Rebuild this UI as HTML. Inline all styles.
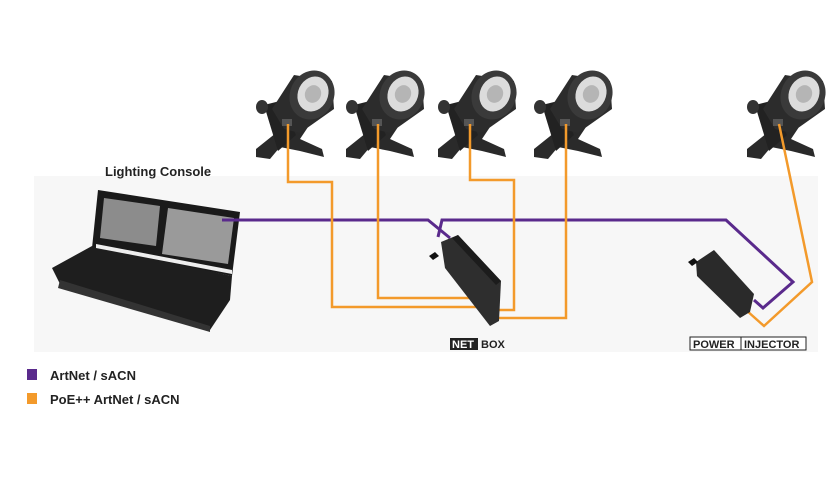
<!DOCTYPE html>
<html><head><style>
body{margin:0;background:#fff;width:840px;height:480px;overflow:hidden;font-family:"Liberation Sans",sans-serif}
</style></head><body>
<svg width="840" height="480" viewBox="0 0 840 480" xmlns="http://www.w3.org/2000/svg">
<defs>
<g id="fx">
  <path d="M6 84 L26 68 L40 58 L58 62 L50 74 L72 84 L74 92 L50 86 L30 82 L20 94 L6 92 Z" fill="#2a2a2a"/>
  <path d="M14 40 L30 36 L46 70 L28 86 Z" fill="#222"/>
  <ellipse cx="12" cy="42" rx="6" ry="7" fill="#333"/>
  <path d="M22 44 L44 10 L82 16 L84 44 L50 68 L34 64 Z" fill="#2c2c2c"/>
  <ellipse cx="62" cy="30" rx="22" ry="25" transform="rotate(25 62 30)" fill="#3a3a3a"/>
  <ellipse cx="63" cy="29" rx="15" ry="18" transform="rotate(25 63 29)" fill="#dcdcdc"/>
  <ellipse cx="63" cy="29" rx="8" ry="9" transform="rotate(25 63 29)" fill="#b5b5b5"/>
  <rect x="32" y="54" width="10" height="7" fill="#555"/>
</g>
</defs>
<rect x="34" y="176" width="784" height="176" fill="#f7f7f7"/>
<use href="#fx" x="250" y="65"/>
<use href="#fx" x="340" y="65"/>
<use href="#fx" x="432" y="65"/>
<use href="#fx" x="528" y="65"/>
<use href="#fx" x="741" y="65"/>

<!-- console -->
<text x="105" y="176" font-size="13" font-weight="bold" fill="#222">Lighting Console</text>
<path d="M98 190 L240 212 L232 276 L92 248 Z" fill="#1a1a1a"/>
<path d="M104 198 L160 206 L156 246 L100 238 Z" fill="#8c8c8c"/>
<path d="M168 208 L234 218 L228 264 L162 254 Z" fill="#9a9a9a"/>
<path d="M92 246 L232 276 L230 300 L210 330 L60 284 L52 268 Z" fill="#1e1e1e"/>
<path d="M96 244 L232 270 L232 274 L96 248 Z" fill="#eee"/>
<path d="M60 280 L210 326 L210 332 L58 288 Z" fill="#333"/>

<!-- purple lines -->
<g fill="none" stroke="#5a2a8c" stroke-width="3">
<polyline points="222,220 428,220 450,238"/>
<polyline points="438,237 442,220 726,220 793,282 763,308 754,300"/>
</g>
<!-- orange lines -->
<g fill="none" stroke="#f39a2b" stroke-width="2.5">
<polyline points="288,124 288,182 332,182 332,307 497,307"/>
<polyline points="378,124 378,298 497,298"/>
<polyline points="470,124 470,180 514,180 514,310 497,310"/>
<polyline points="566,124 566,318 497,318"/>
<polyline points="779,124 812,282 764,326 746,310"/>
</g>
<!-- netbox -->
<path d="M441 242 L458 235 L501 281 L499 321 L490 326 L445 268 Z" fill="#2e2e2e"/>
<path d="M458 235 L501 281 L496 285 L452 238 Z" fill="#1c1c1c"/>
<path d="M429 256 l6 -4 l4 4 -6 4z" fill="#111"/>
<rect x="450" y="338" width="28" height="12" fill="#222"/>
<text x="452" y="348" font-size="11" font-weight="bold" fill="#fff">NET</text>
<text x="481" y="348" font-size="11" font-weight="bold" fill="#222">BOX</text>
<!-- power injector -->
<path d="M696 262 L714 250 L754 294 L750 312 L740 318 L697 276 Z" fill="#2a2a2a"/>
<path d="M688 262 l6 -4 l4 4 -6 4z" fill="#111"/>
<rect x="690" y="337" width="116" height="13" fill="#fff" stroke="#222"/>
<text x="693" y="348" font-size="11" font-weight="bold" fill="#222">POWER</text>
<line x1="741" y1="337" x2="741" y2="350" stroke="#222"/>
<text x="744" y="348" font-size="11" font-weight="bold" fill="#222">INJECTOR</text>
<!-- legend -->
<rect x="27" y="369" width="10" height="11" fill="#5a2a8c"/>
<text x="50" y="380" font-size="13" font-weight="bold" fill="#222">ArtNet / sACN</text>
<rect x="27" y="393" width="10" height="11" fill="#f39a2b"/>
<text x="50" y="404" font-size="13" font-weight="bold" fill="#222">PoE++ ArtNet / sACN</text>
</svg>
</body></html>
